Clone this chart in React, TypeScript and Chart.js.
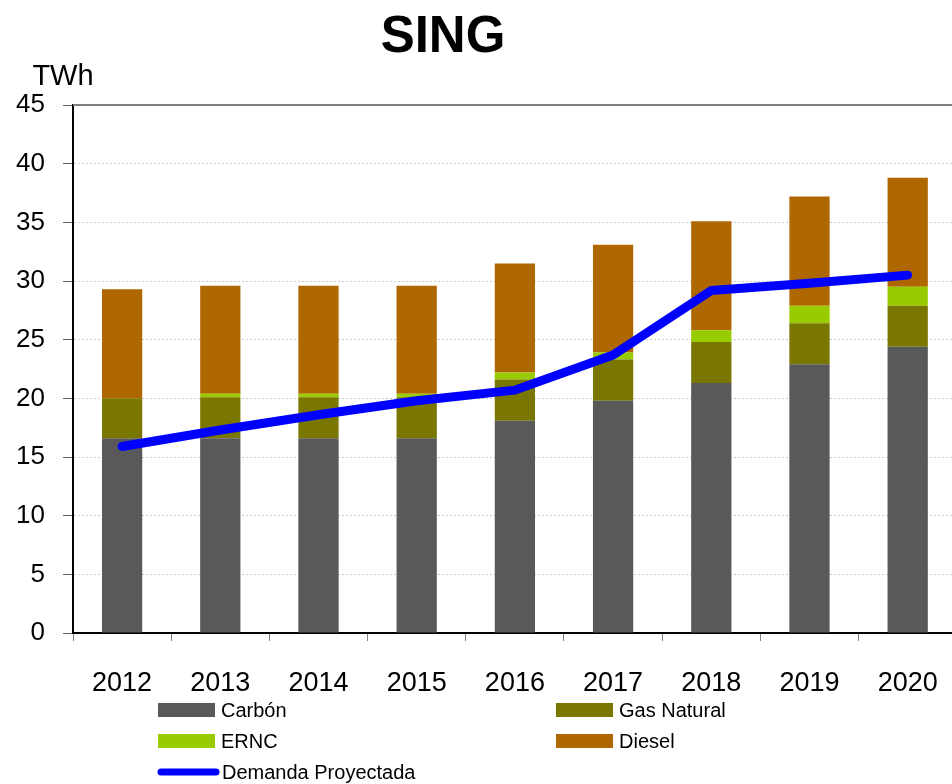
import React, { useEffect, useRef } from "react";
import { Chart, registerables } from "chart.js";

Chart.register(...registerables);

const categories = ["2012", "2013", "2014", "2015", "2016", "2017", "2018", "2019", "2020"];
const carbon = [16.6, 16.6, 16.6, 16.6, 18.1, 19.8, 21.3, 22.9, 24.4];
const gasNatural = [3.4, 3.5, 3.5, 3.5, 3.5, 3.5, 3.5, 3.5, 3.5];
const ernc = [0, 0.3, 0.3, 0.3, 0.6, 0.6, 1.0, 1.5, 1.6];
const diesel = [9.3, 9.2, 9.2, 9.2, 9.3, 9.2, 9.3, 9.3, 9.3];
const demanda = [15.9, 17.3, 18.6, 19.8, 20.7, 23.7, 29.2, 29.8, 30.5];

const TITLE = "SING";
const UNIT = "TWh";

const COLORS = {
  carbon: "#595959",
  gas: "#7a7700",
  ernc: "#99cc00",
  diesel: "#af6700",
  demanda: "#0000ff",
};

const legendItems = [
  { label: "Carbón", color: COLORS.carbon, kind: "box", col: 0, row: 0 },
  { label: "Gas Natural", color: COLORS.gas, kind: "box", col: 1, row: 0 },
  { label: "ERNC", color: COLORS.ernc, kind: "box", col: 0, row: 1 },
  { label: "Diesel", color: COLORS.diesel, kind: "box", col: 1, row: 1 },
  { label: "Demanda Proyectada", color: COLORS.demanda, kind: "line", col: 0, row: 2 },
];

const decorPlugin = {
  id: "decor",
  afterDraw(chart: any) {
    const ctx = chart.ctx;
    const area = chart.chartArea;
    ctx.save();
    ctx.strokeStyle = "#808080";
    ctx.lineWidth = 2;
    ctx.beginPath();
    ctx.moveTo(area.left, area.top);
    ctx.lineTo(area.right, area.top);
    ctx.stroke();

    ctx.fillStyle = "#000";
    ctx.textAlign = "center";
    ctx.textBaseline = "middle";
    ctx.font = "bold 51px 'Liberation Sans', Arial, sans-serif";
    ctx.fillText(TITLE, 443, 38);

    ctx.font = "29px 'Liberation Sans', Arial, sans-serif";
    ctx.fillText(UNIT, 63, 77);

    const colX = [158, 556];
    const rowY = [710, 741, 772];
    ctx.font = "20px 'Liberation Sans', Arial, sans-serif";
    ctx.textAlign = "left";
    for (const it of legendItems) {
      const x = colX[it.col];
      const y = rowY[it.row];
      if (it.kind === "box") {
        ctx.fillStyle = it.color;
        ctx.fillRect(x, y - 7, 57, 14);
        ctx.fillStyle = "#000";
        ctx.fillText(it.label, x + 63, y + 1);
      } else {
        ctx.strokeStyle = it.color;
        ctx.lineWidth = 7;
        ctx.lineCap = "round";
        ctx.beginPath();
        ctx.moveTo(x + 3, y);
        ctx.lineTo(x + 58, y);
        ctx.stroke();
        ctx.fillStyle = "#000";
        ctx.fillText(it.label, x + 64, y + 1);
      }
    }
    ctx.restore();
  },
};

export default function App() {
  const ref = useRef<HTMLCanvasElement | null>(null);

  useEffect(() => {
    document.body.style.margin = "0";
    if (!ref.current) return;
    const barCommon = {
      type: "bar" as const,
      stack: "gen",
      barPercentage: 0.41,
      categoryPercentage: 1,
      order: 1,
    };
    const chart = new Chart(ref.current, {
      type: "bar",
      data: {
        labels: categories,
        datasets: [
          { ...barCommon, label: "Carbón", data: carbon, backgroundColor: COLORS.carbon },
          { ...barCommon, label: "Gas Natural", data: gasNatural, backgroundColor: COLORS.gas },
          { ...barCommon, label: "ERNC", data: ernc, backgroundColor: COLORS.ernc },
          { ...barCommon, label: "Diesel", data: diesel, backgroundColor: COLORS.diesel },
          {
            type: "line" as const,
            label: "Demanda Proyectada",
            data: demanda,
            stack: "demanda",
            borderColor: COLORS.demanda,
            backgroundColor: COLORS.demanda,
            borderWidth: 9,
            pointRadius: 0,
            tension: 0,
            borderCapStyle: "round",
            borderJoinStyle: "round",
            order: 0,
          } as any,
        ],
      },
      options: {
        responsive: false,
        animation: false,
        devicePixelRatio: 1,
        layout: { padding: { top: 105, bottom: 91, left: 0, right: 5 } },
        plugins: {
          legend: { display: false },
          title: { display: false },
          tooltip: { enabled: false },
        },
        scales: {
          x: {
            stacked: true,
            offset: true,
            afterFit: (s: any) => {
              s.height = 60;
            },
            grid: {
              display: true,
              offset: true,
              drawOnChartArea: false,
              drawTicks: true,
              tickLength: 8,
              tickColor: "#808080",
              tickWidth: 1,
            },
            border: { display: true, color: "#000", width: 2 },
            ticks: {
              color: "#000",
              padding: 26,
              maxRotation: 0,
              font: { family: "'Liberation Sans', Arial, sans-serif", size: 27 },
            },
          },
          y: {
            stacked: true,
            min: 0,
            max: 45,
            afterFit: (s: any) => {
              s.width = 73;
            },
            grid: {
              color: (c: any) => (c.tick && (c.tick.value === 0 || c.tick.value === 45) ? "rgba(0,0,0,0)" : "#c8c8c8"),
              lineWidth: 1,
              tickLength: 10,
              tickColor: "#606060",
              tickWidth: 1,
            },
            border: { display: true, color: "#000", width: 2, dash: [2, 2] },
            ticks: {
              stepSize: 5,
              color: "#000",
              padding: 18,
              font: { family: "'Liberation Sans', Arial, sans-serif", size: 26 },
            },
          },
        },
      },
      plugins: [decorPlugin],
    });
    return () => chart.destroy();
  }, []);

  return (
    <div style={{ width: 952, height: 784, overflow: "hidden", position: "relative", background: "#fff" }}>
      <canvas ref={ref} width={964} height={784} style={{ width: 964, height: 784, display: "block" }} />
    </div>
  );
}
